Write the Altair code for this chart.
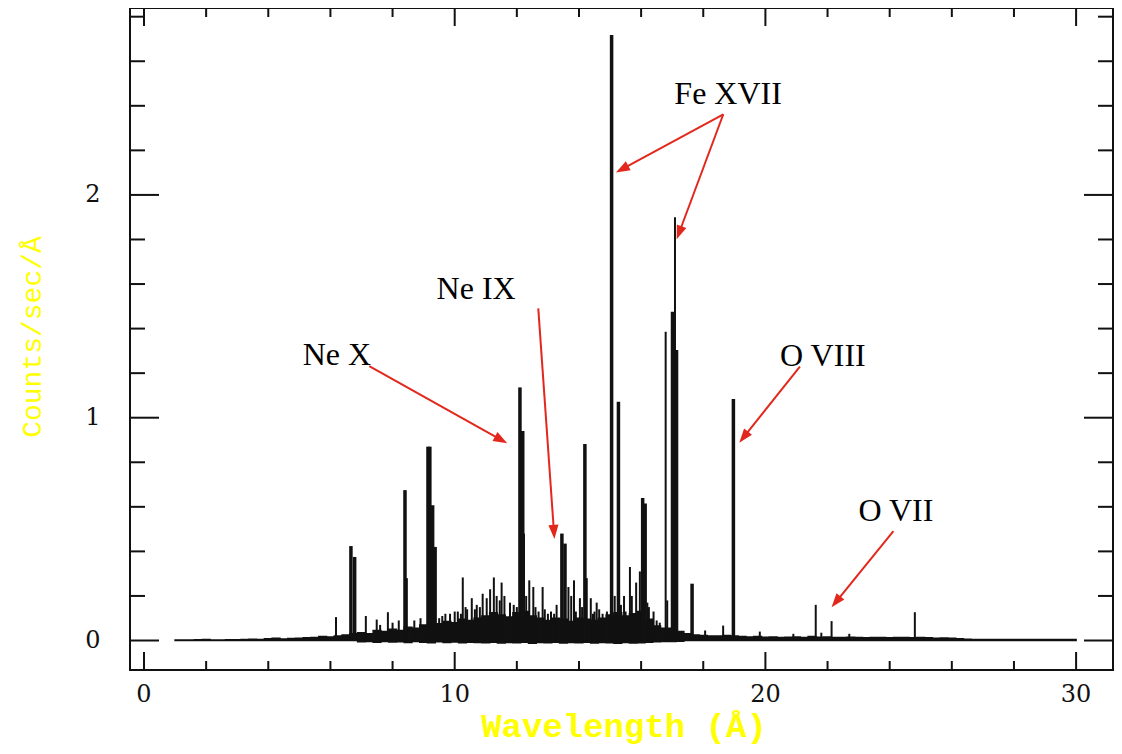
import altair as alt
import pandas as pd
import numpy as np

# ---------------- data ----------------
# strong (wide) emission lines: wavelength (Å), counts/sec/Å
strong_wl = [6.66, 6.78, 8.40, 9.14, 9.20, 9.29, 9.37, 12.10, 12.19, 13.45, 13.55,
             14.19, 15.05, 15.27, 16.05, 16.13, 17.01, 17.14, 17.64, 18.97]
strong_val = [0.424, 0.375, 0.675, 0.87, 0.87, 0.607, 0.42, 1.136, 0.94, 0.48, 0.435,
              0.882, 2.718, 1.072, 0.64, 0.615, 1.476, 1.304, 0.255, 1.084]

# weaker (thin) lines
weak_wl = [6.18, 7.14, 7.49, 7.60, 7.85, 8.00, 8.20, 8.46, 8.70, 8.90, 9.50, 9.60, 9.70,
           9.85, 10.00, 10.10, 10.20, 10.26, 10.35, 10.40, 10.55, 10.65, 10.71, 10.81,
           10.90, 11.03, 11.14, 11.26, 11.35, 11.45, 11.51, 11.60, 11.78, 11.90, 12.00,
           12.23, 12.30, 12.40, 12.53, 12.60, 12.70, 12.83, 12.90, 13.00, 13.10, 13.20,
           13.28, 13.66, 13.75, 13.84, 13.90, 14.03, 14.10, 14.25, 14.38, 14.45, 14.50,
           14.57, 14.65, 14.76, 14.90, 15.15, 15.35, 15.45, 15.50, 15.64, 15.70, 15.84,
           15.96, 16.20, 16.25, 16.40, 16.50, 16.60, 16.79, 16.84, 17.09, 18.06, 18.64,
           19.82, 20.90, 21.62, 21.80, 22.13, 22.70, 24.81]
weak_val = [0.105, 0.11, 0.094, 0.07, 0.127, 0.08, 0.09, 0.28, 0.09, 0.10, 0.10, 0.11, 0.12,
            0.12, 0.13, 0.13, 0.12, 0.283, 0.15, 0.14, 0.19, 0.14, 0.16, 0.15,
            0.21, 0.19, 0.23, 0.283, 0.20, 0.18, 0.26, 0.20, 0.17, 0.16, 0.15,
            0.48, 0.20, 0.27, 0.24, 0.15, 0.13, 0.24, 0.14, 0.12, 0.13, 0.12,
            0.16, 0.24, 0.20, 0.27, 0.13, 0.19, 0.15, 0.28, 0.19, 0.12, 0.13,
            0.17, 0.14, 0.12, 0.13, 0.20, 0.16, 0.20, 0.13, 0.33, 0.20, 0.26,
            0.31, 0.17, 0.15, 0.13, 0.09, 0.08, 1.386, 0.18, 1.90, 0.045, 0.067,
            0.04, 0.03, 0.16, 0.035, 0.087, 0.03, 0.127]

# continuum / noise band, 0.25 Å grid from 1.00 to 30.00 Å
cont_top = [0.002, 0.002, 0.002, 0.003, 0.004, 0.002, 0.002, 0.003,
            0.003, 0.004, 0.006, 0.005, 0.008, 0.010, 0.007, 0.009,
            0.010, 0.012, 0.014, 0.018, 0.016, 0.020, 0.025, 0.030,
            0.035, 0.030, 0.045, 0.040, 0.050, 0.045, 0.060, 0.055,
            0.070, 0.080, 0.075, 0.085, 0.080, 0.095, 0.090, 0.100,
            0.110, 0.125, 0.115, 0.105, 0.125, 0.130, 0.110, 0.100,
            0.090, 0.100, 0.095, 0.085, 0.100, 0.095, 0.090, 0.100,
            0.115, 0.125, 0.110, 0.120, 0.130, 0.095, 0.065, 0.055,
            0.055, 0.040, 0.030, 0.025, 0.022, 0.020, 0.020, 0.022,
            0.020, 0.018, 0.016, 0.018, 0.015, 0.016, 0.014, 0.015,
            0.016, 0.014, 0.018, 0.015, 0.016, 0.014, 0.013, 0.015,
            0.014, 0.012, 0.013, 0.014, 0.012, 0.013, 0.014, 0.012,
            0.013, 0.012, 0.010, 0.011, 0.010, 0.008, 0.006, 0.005,
            0.005, 0.004, 0.005, 0.004, 0.005, 0.004, 0.005, 0.004,
            0.004, 0.005, 0.004, 0.004, 0.004]
cont_low = [0.0] * 24 + [-0.006, -0.004, -0.008, -0.005, -0.007, -0.006, -0.009, -0.005,
                         -0.008, -0.010, -0.006, -0.009, -0.007, -0.010, -0.008, -0.009,
                         -0.010, -0.008, -0.011, -0.009, -0.010, -0.008, -0.012, -0.009,
                         -0.010, -0.008, -0.011, -0.009, -0.010, -0.008, -0.011, -0.009,
                         -0.010, -0.012, -0.009, -0.011, -0.010, -0.008, -0.006, -0.005,
                         -0.004, -0.003] + [0.0] * 51
cont_wl = [1.0 + 0.25 * i for i in range(len(cont_top))]

# axis tick values / labels
x_labels = [0, 10, 20, 30]
x_minor = [2, 4, 6, 8, 12, 14, 16, 18, 22, 24, 26, 28]
y_labels = [0, 1, 2]
y_minor = [0.2, 0.4, 0.6, 0.8, 1.2, 1.4, 1.6, 1.8, 2.2, 2.4, 2.6, 2.8]

# annotations
ann_text = ["Fe XVII", "Ne IX", "Ne X", "O VIII", "O VII"]
ann_x = [18.80, 10.69, 6.21, 21.85, 24.20]
ann_y = [2.453, 1.578, 1.281, 1.277, 0.581]

arrow_x0 = [18.645, 18.645, 7.25, 12.69, 21.11, 24.12]
arrow_y0 = [2.362, 2.362, 1.232, 1.491, 1.229, 0.491]
arrow_x1 = [15.19, 17.145, 11.69, 13.21, 19.16, 22.13]
arrow_y1 = [2.101, 1.801, 0.885, 0.456, 0.888, 0.149]

x_title = "Wavelength (Å)"
y_title = "Counts/sec/Å"

# ---------------- layout ----------------
W, H = 983, 662
X_MIN = -0.4506
X_MAX = X_MIN + W / 31.07
Y_MIN, Y_MAX = -0.1324, 2.839
RED = "#E2281C"
YELLOW = "#FFFF00"
INK = "#111111"

xs = alt.Scale(domain=[X_MIN, X_MAX], nice=False, zero=False)
ys = alt.Scale(domain=[Y_MIN, Y_MAX], nice=False, zero=False)


def X(f):
    return alt.X(f, type="quantitative", scale=xs, axis=None)


def Y(f):
    return alt.Y(f, type="quantitative", scale=ys, axis=None)


cont_df = pd.DataFrame({"wl": cont_wl, "top": cont_top, "low": cont_low})
strong_df = pd.DataFrame({"wl": strong_wl, "v": strong_val})
weak_df = pd.DataFrame({"wl": weak_wl, "v": weak_val})

band = alt.Chart(cont_df).mark_area(
    interpolate="step", color=INK, stroke=INK, strokeWidth=1.5
).encode(x=X("wl"), y=Y("top"), y2="low")

weak = alt.Chart(weak_df).mark_rule(color=INK, strokeWidth=2).encode(
    x=X("wl"), y=Y("v"), y2=alt.datum(0))
strong = alt.Chart(strong_df).mark_rule(color=INK, strokeWidth=3.5).encode(
    x=X("wl"), y=Y("v"), y2=alt.datum(0))

# ticks (inward) on all four sides
xmaj_df = pd.DataFrame({"t": x_labels})
xmin_df = pd.DataFrame({"t": x_minor})
ymaj_df = pd.DataFrame({"t": y_labels})
ymin_df = pd.DataFrame({"t": y_minor})

tick_layers = []
for df, ln in [(xmaj_df, 18), (xmin_df, 9)]:
    tick_layers.append(alt.Chart(df).mark_rule(color=INK, strokeWidth=2).encode(
        x=X("t"), y=alt.value(H), y2=alt.value(H - ln)))
    tick_layers.append(alt.Chart(df).mark_rule(color=INK, strokeWidth=2).encode(
        x=X("t"), y=alt.value(0), y2=alt.value(ln)))
for df, ln in [(ymaj_df, 29), (ymin_df, 15)]:
    tick_layers.append(alt.Chart(df).mark_rule(color=INK, strokeWidth=2).encode(
        y=Y("t"), x=alt.value(0), x2=alt.value(ln)))
    tick_layers.append(alt.Chart(df).mark_rule(color=INK, strokeWidth=2).encode(
        y=Y("t"), x=alt.value(W), x2=alt.value(W - ln)))

xlab = alt.Chart(xmaj_df).mark_text(
    font="DejaVu Serif", fontSize=24, color=INK, baseline="middle", align="center"
).encode(x=X("t"), y=alt.value(H + 25), text=alt.Text("t:Q", format="d"))
ylab = alt.Chart(ymaj_df).mark_text(
    font="DejaVu Serif", fontSize=24, color=INK, baseline="middle", align="center"
).encode(y=Y("t"), x=alt.value(-37), text=alt.Text("t:Q", format="d"))

xt = alt.Chart(pd.DataFrame({"s": [x_title]})).mark_text(
    font="Liberation Mono", fontSize=34, fontWeight="bold", color=YELLOW,
    baseline="middle", align="center"
).encode(x=alt.value(494), y=alt.value(719), text="s:N")
yt = alt.Chart(pd.DataFrame({"s": [y_title]})).mark_text(
    font="Liberation Mono", fontSize=28, color=YELLOW, angle=270,
    baseline="middle", align="center"
).encode(x=alt.value(-97), y=alt.value(329), text="s:N")

ann = alt.Chart(pd.DataFrame({"t": ann_text, "x": ann_x, "y": ann_y})).mark_text(
    font="Liberation Serif", fontSize=32, color="black", baseline="middle", align="center"
).encode(x=X("x"), y=Y("y"), text="t:N")

# arrows: shaft + head (head rotated along the shaft in screen space)
px_x = W / (X_MAX - X_MIN)
px_y = H / (Y_MAX - Y_MIN)
adf = pd.DataFrame({"x0": arrow_x0, "y0": arrow_y0, "x1": arrow_x1, "y1": arrow_y1})
dxs = (adf["x1"] - adf["x0"]) * px_x
dys = -(adf["y1"] - adf["y0"]) * px_y
adf["ang"] = np.mod(np.degrees(np.arctan2(dxs, -dys)), 360)
L = np.hypot(dxs, dys)
adf["xe"] = adf["x1"] - (dxs / L * 8) / px_x
adf["ye"] = adf["y1"] + (dys / L * 8) / px_y

shaft = alt.Chart(adf).mark_rule(color=RED, strokeWidth=2).encode(
    x=X("x0"), y=Y("y0"), x2="xe", y2="ye")
head = alt.Chart(adf).mark_point(
    shape="M0,0 L-0.72,2 L0.72,2 Z", filled=True, color=RED, opacity=1, size=196,
    strokeWidth=0
).encode(x=X("x1"), y=Y("y1"), angle=alt.Angle("ang:Q", scale=None))

chart = alt.layer(
    band, weak, strong, *tick_layers, xlab, ylab, xt, yt, shaft, head, ann
).properties(
    width=W, height=H,
    autosize=alt.AutoSizeParams(type="none"),
    padding={"left": 122, "top": 0, "right": 1, "bottom": 82},
    background="white",
).configure_view(stroke=INK, strokeWidth=2)

chart.save("out.html", embed_options={"renderer": "svg", "actions": False})
